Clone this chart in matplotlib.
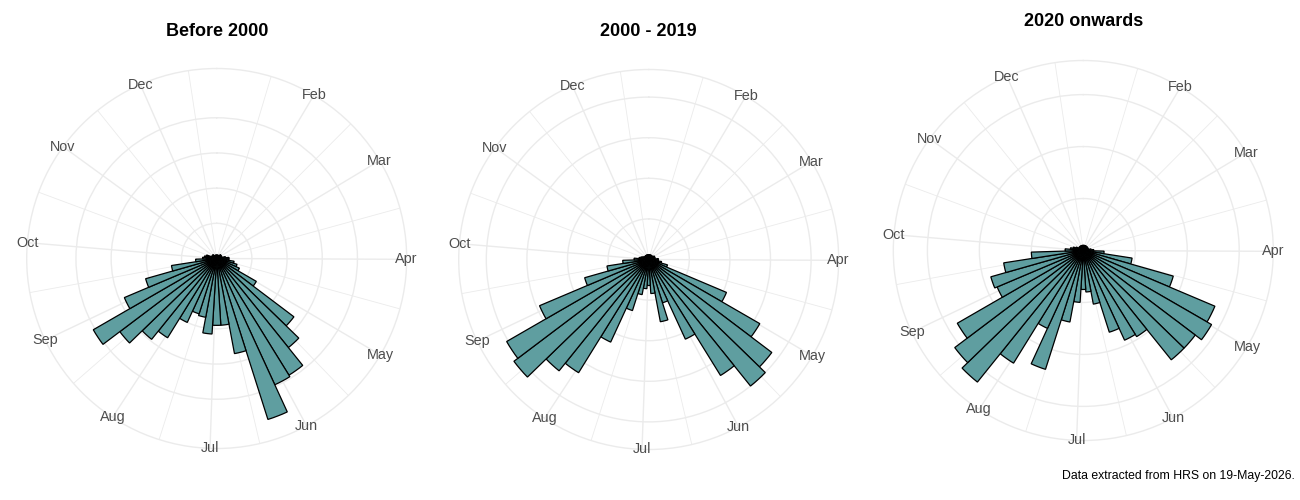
import matplotlib
matplotlib.use("Agg")
import matplotlib.pyplot as plt
import numpy as np

plt.rcParams["font.family"] = ["Liberation Sans", "DejaVu Sans"]

# Month tick labels (Jan falls just outside the theta range and is dropped)
MONTHS = ["Feb", "Mar", "Apr", "May", "Jun", "Jul", "Aug", "Sep", "Oct", "Nov", "Dec"]
MONTH_START_DAY = [32, 60, 91, 121, 152, 182, 213, 244, 274, 305, 335]

# Weekly bins of day-of-year
FIRST_DAY = 1.5
BIN_DAYS = 7

# Counts per week (51 weekly bins)
before_2000 = [2, 2, 2, 2, 2, 2, 3, 3, 3, 3, 3, 5, 7, 7, 10, 12, 14, 26, 55, 65,
               78, 79, 96, 55, 38, 38, 43, 34, 33, 40, 53, 59, 69, 81, 57, 42, 26, 12, 8, 7,
               6, 3, 3, 3, 3, 2, 2, 2, 2, 2, 2]
y2000_2019 = [3, 3, 3, 3, 3, 3, 3, 3, 4, 4, 4, 4, 6, 6, 8, 12, 52, 79, 95, 100,
              84, 54, 28, 39, 21, 16, 18, 22, 33, 56, 82, 88, 104, 101, 73, 41, 26, 16, 9, 6,
              5, 4, 3, 3, 3, 3, 3, 3, 3, 3, 3]
from_2020 = [2, 2, 2, 2, 2, 2, 2, 2, 2, 2, 2, 3, 4, 8, 19, 36, 55, 57, 54, 54,
             39, 38, 33, 21, 16, 15, 20, 28, 48, 33, 51, 65, 62, 56, 36, 37, 31, 20, 7, 5,
             4, 3, 2, 2, 2, 2, 2, 2, 2, 2, 2]

TITLES = ["Before 2000", "2000 - 2019", "2020 onwards"]
SERIES = [before_2000, y2000_2019, from_2020]
BREAK_STEPS = [20, 25, 20]

CAPTION = "Data extracted from HRS on 19-May-2026."

BAR_COLOR = "#5F9EA0"
GRID_COLOR = "#EBEBEB"
TEXT_COLOR = "#4D4D4D"

fig = plt.figure(figsize=(13, 5), dpi=100)

# axes rectangles (figure fraction): circle centre / radius measured in pixels
centres = [(216.7, 258.5), (648.7, 259.5), (1083.3, 250.5)]
radius_px = 190
title_y = [32, 32, 22]

for k, (title, values, step) in enumerate(zip(TITLES, SERIES, BREAK_STEPS)):
    cx, cy = centres[k]
    rect = [(cx - radius_px) / 1300, 1 - (cy + radius_px) / 500,
            2 * radius_px / 1300, 2 * radius_px / 500]
    ax = fig.add_axes(rect, projection="polar")
    ax.set_theta_zero_location("N")
    ax.set_theta_direction(-1)

    vals = np.asarray(values, dtype=float)
    n = len(vals)
    span = BIN_DAYS * n

    def to_theta(day):
        return 2 * np.pi * (np.asarray(day, dtype=float) - FIRST_DAY) / span

    centres_day = FIRST_DAY + BIN_DAYS * (np.arange(n) + 0.5)
    ax.bar(to_theta(centres_day), vals, width=2 * np.pi * BIN_DAYS / span,
           bottom=0, color=BAR_COLOR, edgecolor="black", linewidth=0.9, zorder=3)

    # ggplot-like polar: data max at r=0.4, outer circle at r=0.45
    r_outer = vals.max() * 0.45 / 0.4
    ax.set_ylim(0, r_outer)
    ax.set_yticks(np.arange(step, vals.max() + 1e-9, step))
    ax.set_yticklabels([])

    majors = np.array(MONTH_START_DAY, dtype=float)
    mids = (majors[:-1] + majors[1:]) / 2
    minors = np.concatenate([[majors[0] - (majors[1] - majors[0]) / 2], mids,
                             [majors[-1] + (majors[-1] - majors[-2]) / 2]])
    ax.set_xticks(to_theta(majors))
    ax.set_xticklabels([])
    ax.set_xticks(to_theta(minors), minor=True)
    ax.tick_params(axis="both", which="both", length=0)

    ax.grid(True, which="major", color=GRID_COLOR, linewidth=1.0)
    ax.xaxis.grid(True, which="minor", color=GRID_COLOR, linewidth=0.6)
    ax.set_axisbelow(True)
    ax.spines["polar"].set_color(GRID_COLOR)
    ax.spines["polar"].set_linewidth(1.0)
    ax.set_facecolor("white")

    for day, lab in zip(MONTH_START_DAY, MONTHS):
        ax.text(to_theta(day), r_outer * 1.0, lab, ha="center", va="center",
                fontsize=10.4, color=TEXT_COLOR, zorder=5, clip_on=False)

    fig.text(cx / 1300, 1 - title_y[k] / 500, title, ha="center", va="center",
             fontsize=13, fontweight="bold", color="black")

fig.text(1295 / 1300, 1 - 476 / 500, CAPTION, ha="right", va="center",
         fontsize=8.8, color="black")

fig.savefig("out.png", dpi=100, facecolor="white")
